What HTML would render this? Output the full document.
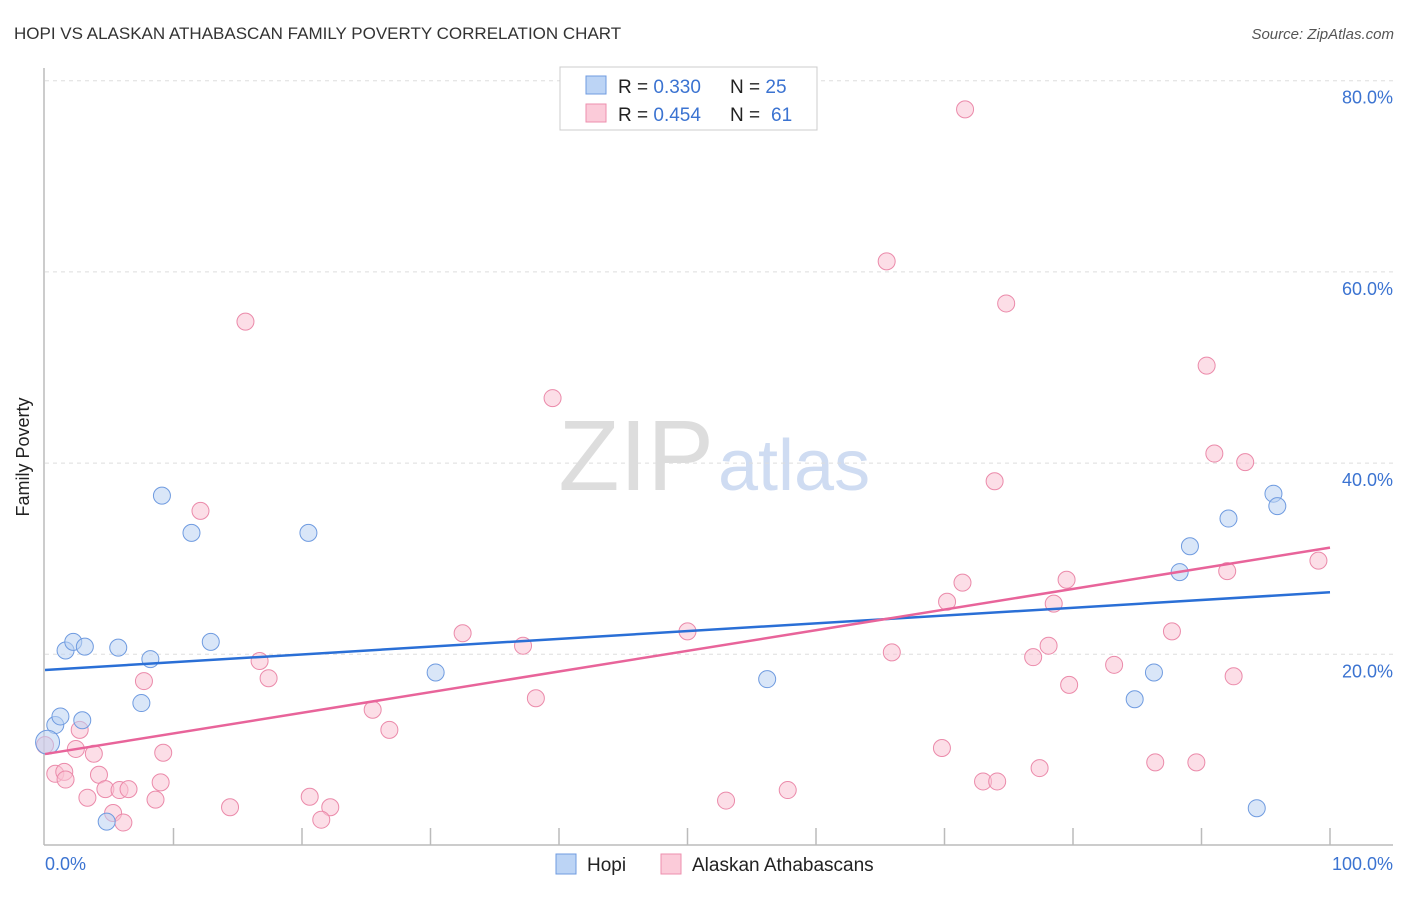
<!DOCTYPE html>
<html><head><meta charset="utf-8"><style>
body{margin:0;background:#fff;font-family:"Liberation Sans",sans-serif}
svg text{font-family:"Liberation Sans",sans-serif}
</style></head><body>
<svg id="c" width="1406" height="892" xmlns="http://www.w3.org/2000/svg">
<text x="14" y="39" font-size="17" fill="#333">HOPI VS ALASKAN ATHABASCAN FAMILY POVERTY CORRELATION CHART</text>
<text x="1394" y="39" font-size="15" fill="#555" text-anchor="end" font-style="italic">Source: ZipAtlas.com</text>
<text x="714" y="490" font-size="100" fill="#ddd" text-anchor="end" font-family="Liberation Serif">ZIP</text>
<text x="718" y="490" font-size="72" fill="#cfdcf2">atlas</text>
<g id="grid"></g>
<line x1="44" y1="68" x2="44" y2="845" stroke="#bbb" stroke-width="1.5"/>
<line x1="44" y1="845" x2="1393" y2="845" stroke="#bbb" stroke-width="1.5"/>
<text x="29" y="457" font-size="18" fill="#222" text-anchor="middle" transform="rotate(-90 29 457)">Family Poverty</text>
<text x="45" y="870" font-size="18" fill="#3b73d1">0.0%</text>
<text x="1393" y="870" font-size="18" fill="#3b73d1" text-anchor="end">100.0%</text>
<g id="pts"></g>
<g id="lines"></g>
<g>
<rect x="560" y="67" width="257" height="63" fill="#fff" stroke="#ccc"/>
<rect x="586" y="76" width="20" height="18" fill="#bcd4f5" stroke="#6f9be0"/>
<rect x="586" y="104" width="20" height="18" fill="#fbcbd9" stroke="#ee8fae"/>
<text x="618" y="93" font-size="19" fill="#222">R = <tspan fill="#3b73d1">0.330</tspan></text>
<text x="730" y="93" font-size="19" fill="#222">N = <tspan fill="#3b73d1">25</tspan></text>
<text x="618" y="121" font-size="19" fill="#222">R = <tspan fill="#3b73d1">0.454</tspan></text>
<text x="730" y="121" font-size="19" fill="#222">N = <tspan fill="#3b73d1" x="771">61</tspan></text>
</g>
<g>
<rect x="556" y="854" width="20" height="20" fill="#bcd4f5" stroke="#6f9be0"/>
<text x="587" y="871" font-size="19" fill="#222">Hopi</text>
<rect x="661" y="854" width="20" height="20" fill="#fbcbd9" stroke="#ee8fae"/>
<text x="692" y="871" font-size="19" fill="#222">Alaskan Athabascans</text>
</g>
</svg>
<script>
const yTicks=[20,40,60,80];
const yTickLabels=["20.0%","40.0%","60.0%","80.0%"];
const xTicks=[10,20,30,40,50,60,70,80,90,100];
const hopiX=[0.8,1.2,2.9,1.6,2.2,3.1,5.7,8.2,7.5,9.1,11.4,12.9,20.5,30.4,56.2,4.8,84.8,86.3,88.3,89.1,92.1,95.6,95.9,94.3,0.2];
const hopiY=[12.6,13.5,13.1,20.4,21.3,20.8,20.7,19.5,14.9,36.6,32.7,21.3,32.7,18.1,17.4,2.5,15.3,18.1,28.6,31.3,34.2,36.8,35.5,3.9,10.8];
const alaskX=[71.6,65.5,74.8,15.6,39.5,90.4,91.0,93.4,73.9,12.1,99.1,92.0,71.4,79.5,70.2,78.5,32.5,50.0,87.7,37.2,78.1,65.9,76.9,16.7,83.2,7.7,17.4,79.7,92.5,38.2,25.5,26.8,2.7,2.4,3.8,9.2,69.8,0,0.8,1.5,1.6,4.2,9.0,4.7,5.8,6.5,3.3,8.6,20.6,14.4,22.2,5.3,6.1,21.5,53.0,57.8,73.0,74.1,77.4,86.4,89.6];
const alaskY=[77.0,61.1,56.7,54.8,46.8,50.2,41.0,40.1,38.1,35.0,29.8,28.7,27.5,27.8,25.5,25.3,22.2,22.4,22.4,20.9,20.9,20.2,19.7,19.3,18.9,17.2,17.5,16.8,17.7,15.4,14.2,12.1,12.1,10.1,9.6,9.7,10.2,10.5,7.5,7.7,6.9,7.4,6.6,5.9,5.8,5.9,5.0,4.8,5.1,4.0,4.0,3.4,2.4,2.7,4.7,5.8,6.7,6.7,8.1,8.7,8.7];
const NS="http://www.w3.org/2000/svg";
const sx=v=>45+v*12.85, sy=v=>845.5-v*9.56;
function mk(t,a,p){const e=document.createElementNS(NS,t);for(const k in a)e.setAttribute(k,a[k]);p.appendChild(e);return e;}
const grid=document.getElementById('grid');
yTicks.forEach((v,i)=>{
 const l=mk('line',{x1:45,x2:1393,y1:sy(v),y2:sy(v),stroke:'#ddd','stroke-dasharray':'4,4'},grid);
 
 
 const t=mk('text',{x:1393,y:sy(v)+23,'font-size':18,fill:'#3b73d1','text-anchor':'end'},grid);
 t.textContent=yTickLabels[i];
 
 
});
xTicks.forEach(v=>{
 const l=mk('line',{x1:sx(v),x2:sx(v),y1:828,y2:845,stroke:'#bbb','stroke-width':1.5},grid);
 
 
});
const pts=document.getElementById('pts');
function draw(X,Y,fill,stroke,name){X.forEach((x,i)=>{
 const c=mk('circle',{cx:sx(x),cy:sy(Y[i]),r:i==X.length-1&&name=='hopi-point'?12:8.5,fill:fill,stroke:stroke,'stroke-width':1,'fill-opacity':0.55},pts);
 
 
});}
draw(alaskX,alaskY,'#f9c3d3','#eb8aaa','alaskan-point');
draw(hopiX,hopiY,'#b9d1f3','#6f9be0','hopi-point');
function fit(X,Y){const n=X.length;let mx=0,my=0;X.forEach((x,i)=>{mx+=x;my+=Y[i]});mx/=n;my/=n;let sxy=0,sxx=0;X.forEach((x,i)=>{sxy+=(x-mx)*(Y[i]-my);sxx+=(x-mx)**2});const b=sxy/sxx;return [my-b*mx,b];}
const lines=document.getElementById('lines');
[[hopiX,hopiY,'#2a6fd6','hopi-trendline'],[alaskX,alaskY,'#e8649a','alaskan-trendline']].forEach(([X,Y,c,n])=>{
 const [a,b]=fit(X,Y);
 const l=mk('line',{x1:sx(0),y1:sy(a),x2:sx(100),y2:sy(a+b*100),stroke:c,'stroke-width':2.5},lines);
 
 
});
</script>
</body></html>
